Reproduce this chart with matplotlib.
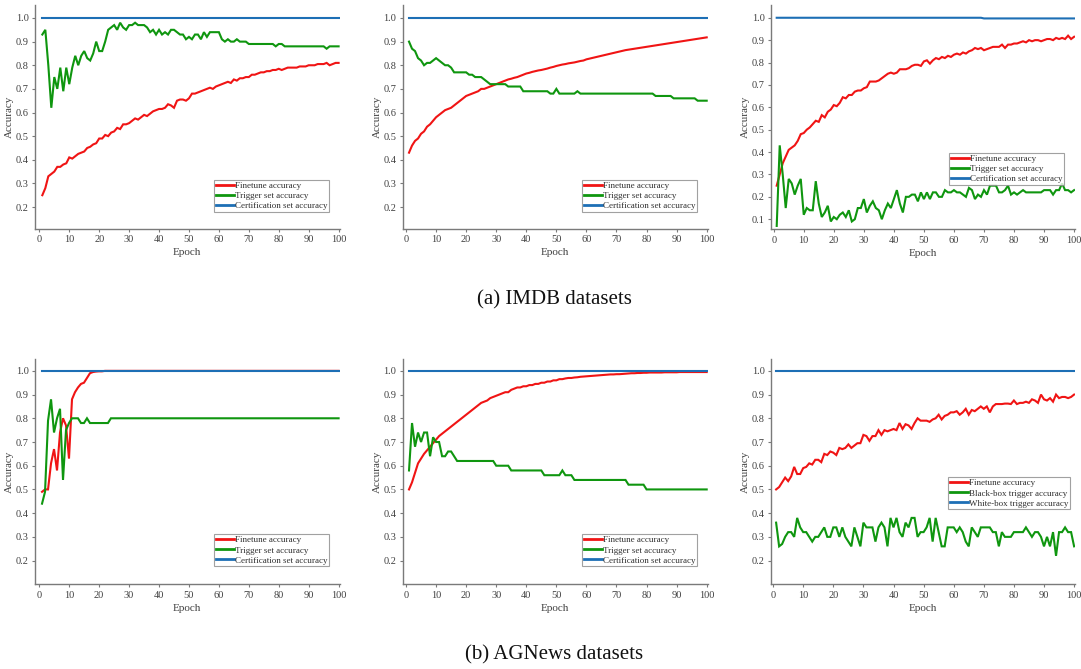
import matplotlib
matplotlib.use("Agg")
import matplotlib.pyplot as plt
import numpy as np

epochs = list(range(1, 101))

# ---------------- (a) IMDB ----------------
imdb1_finetune = [0.25, 0.28, 0.33, 0.34, 0.35, 0.37, 0.37, 0.38, 0.385, 0.41,
                  0.405, 0.415, 0.425, 0.43, 0.435, 0.45, 0.455, 0.465, 0.47, 0.49,
                  0.49, 0.505, 0.50, 0.515, 0.52, 0.535, 0.53, 0.55, 0.55, 0.555,
                  0.565, 0.575, 0.57, 0.58, 0.59, 0.585, 0.595, 0.605, 0.61, 0.615,
                  0.615, 0.62, 0.635, 0.63, 0.62, 0.65, 0.655, 0.655, 0.65, 0.66,
                  0.68, 0.68, 0.685, 0.69, 0.695, 0.70, 0.705, 0.70, 0.71, 0.715,
                  0.72, 0.725, 0.73, 0.725, 0.74, 0.735, 0.745, 0.745, 0.75, 0.75,
                  0.76, 0.76, 0.765, 0.77, 0.77, 0.775, 0.775, 0.78, 0.78, 0.785,
                  0.78, 0.785, 0.79, 0.79, 0.79, 0.79, 0.795, 0.795, 0.795, 0.80,
                  0.80, 0.80, 0.805, 0.805, 0.805, 0.81, 0.80, 0.805, 0.81, 0.81]
imdb1_trigger = [0.93, 0.95, 0.80, 0.62, 0.75, 0.70, 0.79, 0.69, 0.79, 0.72,
                 0.79, 0.84, 0.80, 0.84, 0.86, 0.83, 0.82, 0.85, 0.90, 0.86,
                 0.86, 0.90, 0.95, 0.96, 0.97, 0.95, 0.98, 0.96, 0.95, 0.97,
                 0.97, 0.98, 0.97, 0.97, 0.97, 0.96, 0.94, 0.95, 0.93, 0.95,
                 0.93, 0.94, 0.93, 0.95, 0.95, 0.94, 0.93, 0.93, 0.91, 0.92,
                 0.91, 0.93, 0.93, 0.91, 0.94, 0.92, 0.94, 0.94, 0.94, 0.94,
                 0.91, 0.90, 0.91, 0.90, 0.90, 0.91, 0.90, 0.90, 0.90, 0.89,
                 0.89, 0.89, 0.89, 0.89, 0.89, 0.89, 0.89, 0.89, 0.88, 0.89,
                 0.89, 0.88, 0.88, 0.88, 0.88, 0.88, 0.88, 0.88, 0.88, 0.88,
                 0.88, 0.88, 0.88, 0.88, 0.88, 0.87, 0.88, 0.88, 0.88, 0.88]
imdb1_cert = [1.0] * 100

imdb2_finetune = [0.43, 0.46, 0.48, 0.49, 0.51, 0.52, 0.54, 0.55, 0.565, 0.58,
                  0.59, 0.60, 0.61, 0.615, 0.62, 0.63, 0.64, 0.65, 0.66, 0.67,
                  0.675, 0.68, 0.685, 0.69, 0.70, 0.70, 0.705, 0.71, 0.715, 0.72,
                  0.725, 0.73, 0.735, 0.74, 0.743, 0.747, 0.75, 0.755, 0.76, 0.765,
                  0.768, 0.772, 0.775, 0.778, 0.78, 0.783, 0.786, 0.79, 0.793, 0.797,
                  0.80, 0.803, 0.805, 0.808, 0.81, 0.812, 0.815, 0.818, 0.82, 0.825,
                  0.828, 0.831, 0.834, 0.837, 0.84, 0.843, 0.846, 0.849, 0.852, 0.855,
                  0.858, 0.861, 0.864, 0.866, 0.868, 0.87, 0.872, 0.874, 0.876, 0.878,
                  0.88, 0.882, 0.884, 0.886, 0.888, 0.89, 0.892, 0.894, 0.896, 0.898,
                  0.90, 0.902, 0.904, 0.906, 0.908, 0.91, 0.912, 0.914, 0.916, 0.918]
imdb2_trigger = [0.90, 0.87, 0.86, 0.83, 0.82, 0.80, 0.81, 0.81, 0.82, 0.83,
                 0.82, 0.81, 0.80, 0.80, 0.79, 0.77, 0.77, 0.77, 0.77, 0.77,
                 0.76, 0.76, 0.75, 0.75, 0.75, 0.74, 0.73, 0.72, 0.72, 0.72,
                 0.72, 0.72, 0.72, 0.71, 0.71, 0.71, 0.71, 0.71, 0.69, 0.69,
                 0.69, 0.69, 0.69, 0.69, 0.69, 0.69, 0.69, 0.68, 0.68, 0.70,
                 0.68, 0.68, 0.68, 0.68, 0.68, 0.68, 0.69, 0.68, 0.68, 0.68,
                 0.68, 0.68, 0.68, 0.68, 0.68, 0.68, 0.68, 0.68, 0.68, 0.68,
                 0.68, 0.68, 0.68, 0.68, 0.68, 0.68, 0.68, 0.68, 0.68, 0.68,
                 0.68, 0.68, 0.67, 0.67, 0.67, 0.67, 0.67, 0.67, 0.66, 0.66,
                 0.66, 0.66, 0.66, 0.66, 0.66, 0.66, 0.65, 0.65, 0.65, 0.65]
imdb2_cert = [1.0] * 100

imdb3_finetune = [0.25, 0.30, 0.35, 0.38, 0.41, 0.42, 0.43, 0.45, 0.48, 0.485,
                  0.50, 0.51, 0.525, 0.54, 0.535, 0.565, 0.555, 0.58, 0.59, 0.61,
                  0.605, 0.62, 0.645, 0.64, 0.655, 0.655, 0.67, 0.675, 0.675, 0.685,
                  0.69, 0.715, 0.715, 0.715, 0.72, 0.73, 0.74, 0.75, 0.755, 0.75,
                  0.755, 0.77, 0.77, 0.77, 0.775, 0.785, 0.79, 0.79, 0.785, 0.805,
                  0.81, 0.795, 0.81, 0.82, 0.815, 0.825, 0.82, 0.83, 0.825, 0.835,
                  0.84, 0.835, 0.845, 0.84, 0.85, 0.855, 0.865, 0.86, 0.865, 0.855,
                  0.86, 0.865, 0.87, 0.87, 0.87, 0.88, 0.865, 0.88, 0.88, 0.885,
                  0.885, 0.89, 0.895, 0.89, 0.90, 0.895, 0.90, 0.90, 0.895, 0.90,
                  0.905, 0.905, 0.90, 0.91, 0.905, 0.91, 0.905, 0.92, 0.905, 0.915]
imdb3_trigger = [0.07, 0.43, 0.30, 0.15, 0.28, 0.26, 0.21, 0.25, 0.28, 0.12,
                 0.15, 0.14, 0.14, 0.27, 0.17, 0.11, 0.13, 0.16, 0.09, 0.11,
                 0.10, 0.12, 0.13, 0.11, 0.14, 0.09, 0.10, 0.15, 0.15, 0.19,
                 0.13, 0.16, 0.18, 0.15, 0.14, 0.10, 0.14, 0.17, 0.15, 0.19,
                 0.23, 0.17, 0.13, 0.20, 0.20, 0.21, 0.21, 0.18, 0.22, 0.19,
                 0.22, 0.19, 0.22, 0.22, 0.20, 0.20, 0.23, 0.22, 0.22, 0.23,
                 0.22, 0.22, 0.21, 0.20, 0.24, 0.23, 0.19, 0.21, 0.20, 0.23,
                 0.21, 0.25, 0.25, 0.25, 0.22, 0.22, 0.23, 0.25, 0.21, 0.22,
                 0.21, 0.22, 0.23, 0.22, 0.22, 0.22, 0.22, 0.22, 0.22, 0.23,
                 0.23, 0.23, 0.21, 0.23, 0.23, 0.26, 0.23, 0.23, 0.22, 0.23]
imdb3_cert = [1.0] * 69 + [0.997] * 31

# ---------------- (b) AGNews ----------------
ag1_finetune = [0.49, 0.50, 0.50, 0.61, 0.67, 0.58, 0.74, 0.80, 0.77, 0.63,
                0.88, 0.91, 0.93, 0.945, 0.95, 0.97, 0.99, 0.995, 0.997, 0.998,
                0.998] + [1.0] * 79
ag1_trigger = [0.44, 0.49, 0.79, 0.88, 0.74, 0.80, 0.84, 0.54, 0.75, 0.78,
               0.80, 0.80, 0.80, 0.78, 0.78, 0.80, 0.78, 0.78, 0.78, 0.78,
               0.78, 0.78, 0.78] + [0.80] * 77
ag1_cert = [1.0] * 100

ag2_finetune = [0.50, 0.53, 0.57, 0.61, 0.63, 0.65, 0.665, 0.68, 0.695, 0.71,
                0.725, 0.735, 0.745, 0.755, 0.765, 0.775, 0.785, 0.795, 0.805, 0.815,
                0.825, 0.835, 0.845, 0.855, 0.865, 0.87, 0.875, 0.885, 0.89, 0.895,
                0.90, 0.905, 0.91, 0.91, 0.92, 0.925, 0.93, 0.93, 0.935, 0.935,
                0.94, 0.94, 0.945, 0.945, 0.95, 0.95, 0.955, 0.955, 0.96, 0.96,
                0.965, 0.965, 0.968, 0.97, 0.97, 0.972, 0.973, 0.975, 0.976, 0.977,
                0.978, 0.979, 0.98, 0.981, 0.982, 0.983, 0.984, 0.985, 0.985, 0.986,
                0.986, 0.987, 0.988, 0.989, 0.99, 0.99, 0.991, 0.991, 0.992, 0.992,
                0.993, 0.993, 0.993, 0.993, 0.993, 0.994, 0.994, 0.994, 0.994, 0.994,
                0.995, 0.995, 0.995, 0.995, 0.995, 0.995, 0.995, 0.995, 0.995, 0.995]
ag2_trigger = [0.58, 0.78, 0.68, 0.74, 0.70, 0.74, 0.74, 0.64, 0.72, 0.70,
               0.70, 0.64, 0.64, 0.66, 0.66, 0.64, 0.62, 0.62, 0.62, 0.62,
               0.62, 0.62, 0.62, 0.62, 0.62, 0.62, 0.62, 0.62, 0.62, 0.60,
               0.60, 0.60, 0.60, 0.60, 0.58, 0.58, 0.58, 0.58, 0.58, 0.58,
               0.58, 0.58, 0.58, 0.58, 0.58, 0.56, 0.56, 0.56, 0.56, 0.56,
               0.56, 0.58, 0.56, 0.56, 0.56, 0.54, 0.54, 0.54, 0.54, 0.54,
               0.54, 0.54, 0.54, 0.54, 0.54, 0.54, 0.54, 0.54, 0.54, 0.54,
               0.54, 0.54, 0.54, 0.52, 0.52, 0.52, 0.52, 0.52, 0.52, 0.50,
               0.50, 0.50, 0.50, 0.50, 0.50, 0.50, 0.50, 0.50, 0.50, 0.50,
               0.50, 0.50, 0.50, 0.50, 0.50, 0.50, 0.50, 0.50, 0.50, 0.50]
ag2_cert = [1.0] * 100

ag3_finetune = [0.50, 0.51, 0.53, 0.55, 0.535, 0.555, 0.595, 0.565, 0.565, 0.59,
                0.595, 0.61, 0.605, 0.625, 0.625, 0.615, 0.65, 0.645, 0.66, 0.655,
                0.645, 0.675, 0.67, 0.675, 0.69, 0.675, 0.685, 0.695, 0.695, 0.73,
                0.725, 0.705, 0.725, 0.725, 0.75, 0.73, 0.75, 0.745, 0.75, 0.755,
                0.75, 0.78, 0.755, 0.775, 0.77, 0.755, 0.78, 0.80, 0.79, 0.79,
                0.79, 0.785, 0.795, 0.80, 0.815, 0.795, 0.81, 0.815, 0.825, 0.825,
                0.83, 0.815, 0.825, 0.84, 0.815, 0.835, 0.83, 0.84, 0.85, 0.84,
                0.85, 0.825, 0.85, 0.86, 0.86, 0.86, 0.862, 0.862, 0.86, 0.875,
                0.86, 0.865, 0.865, 0.87, 0.865, 0.88, 0.875, 0.865, 0.90, 0.88,
                0.875, 0.885, 0.87, 0.90, 0.885, 0.89, 0.89, 0.885, 0.89, 0.90]
ag3_black = [0.36, 0.26, 0.27, 0.30, 0.32, 0.32, 0.30, 0.38, 0.34, 0.32,
             0.32, 0.30, 0.28, 0.30, 0.30, 0.32, 0.34, 0.30, 0.30, 0.34,
             0.34, 0.30, 0.34, 0.30, 0.28, 0.26, 0.34, 0.30, 0.26, 0.36,
             0.34, 0.34, 0.34, 0.28, 0.34, 0.36, 0.34, 0.26, 0.38, 0.34,
             0.38, 0.32, 0.30, 0.36, 0.34, 0.38, 0.38, 0.30, 0.32, 0.32,
             0.34, 0.38, 0.28, 0.38, 0.32, 0.26, 0.26, 0.34, 0.34, 0.34,
             0.32, 0.34, 0.32, 0.28, 0.26, 0.34, 0.32, 0.30, 0.34, 0.34,
             0.34, 0.34, 0.32, 0.32, 0.26, 0.32, 0.30, 0.30, 0.30, 0.32,
             0.32, 0.32, 0.32, 0.34, 0.32, 0.30, 0.32, 0.32, 0.30, 0.26,
             0.30, 0.26, 0.32, 0.22, 0.32, 0.32, 0.34, 0.32, 0.32, 0.26]
ag3_white = [1.0] * 100

legend_std = ["Finetune accuracy", "Trigger set accuracy", "Certification set accuracy"]
legend_bw = ["Finetune accuracy", "Black-box trigger accuracy", "White-box trigger accuracy"]
x_ticks = [0, 10, 20, 30, 40, 50, 60, 70, 80, 90, 100]
y_ticks_std = [0.2, 0.3, 0.4, 0.5, 0.6, 0.7, 0.8, 0.9, 1.0]
y_ticks_low = [0.1, 0.2, 0.3, 0.4, 0.5, 0.6, 0.7, 0.8, 0.9, 1.0]
captions = ["(a) IMDB datasets", "(b) AGNews datasets"]

RED = "#f01414"
GREEN = "#0f960f"
BLUE = "#1d6fb5"
SPINE = "#7a7a7a"
TXT = "#404040"
SERIF = ["Liberation Serif", "DejaVu Serif"]

W, H = 1081, 669
fig = plt.figure(figsize=(W / 100, H / 100), dpi=100)
plt.rcParams["font.family"] = SERIF


def add_axes(left, top, right, bottom):
    return fig.add_axes([left / W, 1 - bottom / H, (right - left) / W, (bottom - top) / H])


panels = [
    ((35, 5, 339.5, 229), (-1.45, 100.3), (0.107, 1.055), y_ticks_std,
     (imdb1_finetune, imdb1_trigger, imdb1_cert), legend_std, (0.967, 0.219)),
    ((402.7, 5, 707.6, 229), (-1.1, 100.3), (0.107, 1.055), y_ticks_std,
     (imdb2_finetune, imdb2_trigger, imdb2_cert), legend_std, (0.966, 0.219)),
    ((771, 5, 1075, 229.3), (-0.9, 100.3), (0.055, 1.057), y_ticks_low,
     (imdb3_finetune, imdb3_trigger, imdb3_cert), legend_std, (0.965, 0.34)),
    ((35, 359, 339.5, 584.3), (-1.35, 100.3), (0.10, 1.05), y_ticks_std,
     (ag1_finetune, ag1_trigger, ag1_cert), legend_std, (0.967, 0.222)),
    ((402.7, 359, 707.6, 584.3), (-1.1, 100.3), (0.10, 1.05), y_ticks_std,
     (ag2_finetune, ag2_trigger, ag2_cert), legend_std, (0.966, 0.222)),
    ((771, 359, 1075, 584.3), (-0.7, 100.3), (0.10, 1.05), y_ticks_std,
     (ag3_finetune, ag3_black, ag3_white), legend_bw, (0.985, 0.475)),
]

for box, xlim, ylim, yticks, series, labels, anchor in panels:
    ax = add_axes(*box)
    colors = [RED, GREEN, BLUE]
    for vals, c, lab in zip(series, colors, labels):
        ax.plot(epochs, vals, color=c, lw=1.5, label=lab, solid_joinstyle="miter")
    ax.set_xlim(*xlim)
    ax.set_ylim(*ylim)
    ax.set_xticks(x_ticks)
    ax.set_yticks(yticks)
    ax.set_yticklabels([f"{v:.1f}" for v in yticks])
    for s in ("top", "right"):
        ax.spines[s].set_visible(False)
    for s in ("left", "bottom"):
        ax.spines[s].set_color(SPINE)
        ax.spines[s].set_linewidth(1.0)
    ax.tick_params(axis="both", direction="out", length=2.5, width=0.8,
                   color=SPINE, labelcolor=TXT, labelsize=7.5, pad=2)
    ax.set_xlabel("Epoch", fontsize=8, color=TXT, labelpad=3)
    ax.set_ylabel("Accuracy", fontsize=8, color=TXT, labelpad=1)
    leg = ax.legend(loc="upper right", bbox_to_anchor=anchor, fontsize=6.5,
                    frameon=True, fancybox=False, handlelength=2.0,
                    handletextpad=0.1, borderpad=0.2, labelspacing=0.2,
                    borderaxespad=0.0)
    leg.get_frame().set_edgecolor("#8a8a8a")
    leg.get_frame().set_linewidth(0.8)
    for t in leg.get_texts():
        t.set_color("#303030")
    for ln in leg.get_lines():
        ln.set_linewidth(2.0)

fig.text(554 / W, 1 - 300 / H, captions[0], ha="center", va="center",
         fontsize=15, color="#111111")
fig.text(554 / W, 1 - 655 / H, captions[1], ha="center", va="center",
         fontsize=15, color="#111111")

fig.savefig("out.png", dpi=100)
